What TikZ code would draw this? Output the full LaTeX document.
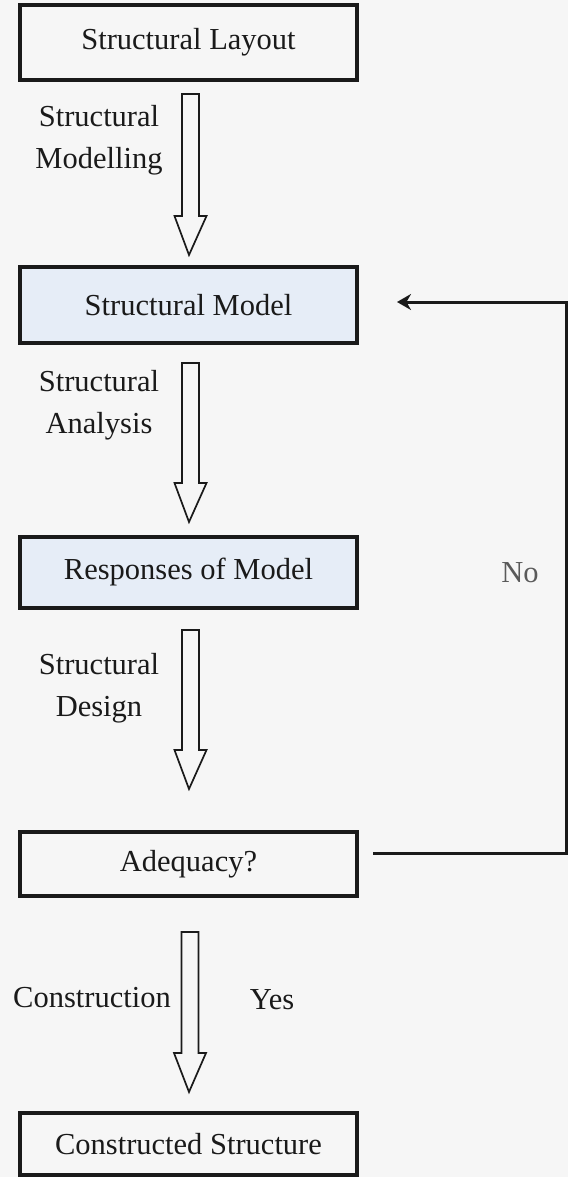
\documentclass[tikz,border=0pt]{standalone}
\usepackage{fontspec}
\setmainfont{Liberation Serif}
\usetikzlibrary{arrows.meta,calc}

\definecolor{pagebg}{HTML}{F6F6F6}
\definecolor{modelfill}{HTML}{E6EDF7}
\definecolor{ink}{HTML}{1A1A1A}

\tikzset{
  txt/.style={font=\fontsize{30.5pt}{42pt}\selectfont, text=ink, inner sep=0pt,
              text height=0.7em, text depth=0.2em},
  stagebox/.style={draw=ink, line width=3.6pt, minimum width=337pt, inner sep=0pt,
                   font=\fontsize{30.5pt}{42pt}\selectfont, text=ink},
  modelbox/.style={stagebox, fill=modelfill},
  hollow/.style={draw=ink, line width=1.7pt, fill=pagebg, line join=miter},
  feedback/.style={draw=ink, line width=3pt, -{Stealth[length=14pt,width=16pt]}},
  steplabel/.style={txt, align=center},
}

% hollow block arrow from a top-centre coordinate to a tip coordinate
\newcommand\hollowarrow[2]{%
  \path[hollow] let \p1=(#1), \p2=(#2) in
    (\x1-8.5pt,\y1) -- (\x1+8.5pt,\y1) -- (\x1+8.5pt,\y2+39pt)
    -- (\x1+16pt,\y2+39pt) -- (\x2,\y2) -- (\x1-16pt,\y2+39pt)
    -- (\x1-8.5pt,\y2+39pt) -- cycle;}

\begin{document}
\begin{tikzpicture}[x=1pt,y=-1pt]
  \fill[pagebg] (0,0) rectangle (568,1177);
  \useasboundingbox (0,0) rectangle (568,1177);

  % stages
  \node[stagebox, minimum height=75pt] (layout)  at (188.5,42.5) {Structural Layout};
  \node[modelbox, minimum height=76pt] (model)   at (188.5,305)  {Structural Model};
  \node[modelbox, minimum height=71pt] (resp)    at (188.5,572.5) {Responses of Model};
  \node[stagebox, minimum height=64pt] (adeq)    at (188.5,864)  {Adequacy?};
  \node[stagebox, minimum height=62pt] (built)   at (188.5,1144) {Constructed Structure};

  % block arrows between stages
  \coordinate (a1t) at (190.5,94);   \coordinate (a1b) at (189,255);
  \coordinate (a2t) at (190.5,363);  \coordinate (a2b) at (189,522);
  \coordinate (a3t) at (190.5,630);  \coordinate (a3b) at (189,789);
  \coordinate (a4t) at (190,932);    \coordinate (a4b) at (189,1092);
  \hollowarrow{a1t}{a1b}
  \hollowarrow{a2t}{a2b}
  \hollowarrow{a3t}{a3b}
  \hollowarrow{a4t}{a4b}

  % process labels
  \node[steplabel] (l1) at (99,166) {Structural\\Modelling};
  \node[steplabel] (l2) at (99,431) {Structural\\Analysis};
  \node[steplabel] (l3) at (99,714) {Structural\\Design};
  \node[txt] (l4) at (92,1005) {Construction};
  \node[txt] (yes) at (272,1007) {Yes};
  \node[txt, text=ink!72] (no) at (520,580) {No};

  % feedback loop back to the model
  \coordinate (fbstart) at (373,853);
  \coordinate (fbcorner) at (566,853);
  \coordinate (fbend) at (397,302);
  \draw[feedback] (fbstart) -- (fbcorner) |- (fbend);
\end{tikzpicture}
\end{document}
